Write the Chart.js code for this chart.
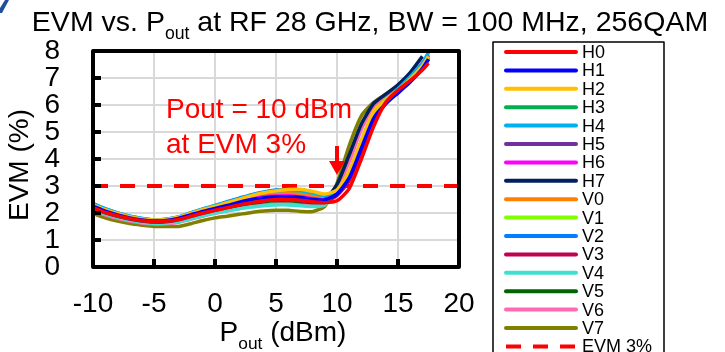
<!DOCTYPE html>
<html>
<head>
<meta charset="utf-8">
<script src="https://cdn.jsdelivr.net/npm/chart.js@4.4.1/dist/chart.umd.min.js"></script>
<style>
  html, body { margin: 0; padding: 0; background: #fff; }
  #wrap { width: 725px; height: 352px; }
</style>
</head>
<body>
<div id="wrap"><canvas id="evmChart" width="725" height="352"></canvas></div>
<script>
// Pout (dBm) sample points shared by every curve
const pout = [-10, -9, -8, -7, -6, -5, -4, -3, -2, -1, 0, 1, 2, 3, 4, 5, 6, 7, 8, 9,
              10, 11, 12, 13, 14, 15, 16, 17, 17.5];

// EVM (%) per channel
const H0 = [2.2, 2.02, 1.9, 1.8, 1.72, 1.68, 1.7, 1.76, 1.88, 2.0, 2.1, 2.2, 2.3, 2.38, 2.45, 2.5, 2.5, 2.47, 2.42, 2.38,
            2.45, 2.9, 4.0, 5.2, 6.1, 6.55, 6.9, 7.3, 7.55];
const H1 = [2.25, 2.07, 1.93, 1.82, 1.74, 1.7, 1.72, 1.8, 1.93, 2.06, 2.17, 2.28, 2.4, 2.5, 2.56, 2.6, 2.6, 2.57, 2.5, 2.48,
            2.7, 3.3, 4.4, 5.5, 6.05, 6.45, 6.85, 7.35, 7.7];
const H2 = [2.3, 2.12, 1.98, 1.86, 1.78, 1.74, 1.76, 1.84, 1.98, 2.12, 2.24, 2.38, 2.5, 2.64, 2.75, 2.82, 2.87, 2.88, 2.8, 2.7,
            2.85, 3.55, 4.7, 5.75, 6.2, 6.55, 6.95, 7.45, 7.8];
const H3 = [2.2, 2.03, 1.9, 1.8, 1.72, 1.68, 1.7, 1.77, 1.9, 2.02, 2.13, 2.24, 2.35, 2.44, 2.5, 2.53, 2.54, 2.5, 2.45, 2.45,
            2.75, 3.45, 4.6, 5.65, 6.15, 6.5, 6.9, 7.4, 7.75];
const H4 = [2.35, 2.16, 2.0, 1.88, 1.8, 1.75, 1.77, 1.85, 2.0, 2.14, 2.26, 2.4, 2.53, 2.66, 2.76, 2.82, 2.84, 2.82, 2.74, 2.65,
            2.85, 3.5, 4.65, 5.7, 6.2, 6.6, 7.05, 7.55, 7.95];
const H5 = [2.22, 2.05, 1.92, 1.82, 1.74, 1.7, 1.72, 1.79, 1.92, 2.05, 2.16, 2.27, 2.38, 2.48, 2.54, 2.57, 2.58, 2.55, 2.49, 2.47,
            2.75, 3.4, 4.55, 5.6, 6.1, 6.45, 6.9, 7.4, 7.7];
const H6 = [2.25, 2.07, 1.94, 1.83, 1.75, 1.71, 1.73, 1.81, 1.95, 2.09, 2.2, 2.32, 2.44, 2.54, 2.6, 2.63, 2.64, 2.6, 2.54, 2.5,
            2.8, 3.45, 4.6, 5.65, 6.15, 6.55, 7.0, 7.55, 7.85];
const H7 = [2.2, 2.03, 1.9, 1.8, 1.72, 1.68, 1.7, 1.78, 1.9, 2.03, 2.14, 2.25, 2.36, 2.45, 2.51, 2.54, 2.54, 2.5, 2.46, 2.5,
            3.05, 4.15, 5.3, 6.05, 6.4, 6.75, 7.2, 7.8, null];
const V0 = [2.28, 2.1, 1.96, 1.85, 1.77, 1.73, 1.75, 1.83, 1.96, 2.1, 2.22, 2.34, 2.46, 2.58, 2.66, 2.7, 2.72, 2.7, 2.62, 2.56,
            2.8, 3.4, 4.55, 5.6, 6.15, 6.55, 6.95, 7.45, 7.75];
const V1 = [2.28, 2.1, 1.96, 1.85, 1.77, 1.73, 1.75, 1.84, 1.98, 2.13, 2.26, 2.37, 2.48, 2.6, 2.68, 2.73, 2.76, 2.75, 2.66, 2.58,
            2.8, 3.45, 4.6, 5.65, 6.15, 6.5, 6.95, 7.45, 7.8];
const V2 = [2.35, 2.15, 2.0, 1.88, 1.8, 1.75, 1.77, 1.85, 2.0, 2.15, 2.28, 2.42, 2.55, 2.68, 2.78, 2.85, 2.87, 2.85, 2.75, 2.65,
            2.8, 3.5, 4.65, 5.7, 6.2, 6.55, 7.0, 7.5, 7.85];
const V3 = [2.18, 2.01, 1.88, 1.78, 1.7, 1.66, 1.68, 1.75, 1.87, 1.99, 2.1, 2.2, 2.3, 2.39, 2.45, 2.48, 2.48, 2.45, 2.4, 2.4,
            2.65, 3.2, 4.3, 5.4, 6.05, 6.5, 6.9, 7.4, 7.7];
const V4 = [2.15, 1.97, 1.84, 1.74, 1.66, 1.62, 1.63, 1.68, 1.78, 1.9, 2.0, 2.08, 2.16, 2.22, 2.27, 2.3, 2.3, 2.27, 2.24, 2.3,
            2.8, 3.5, 4.65, 5.7, 6.2, 6.55, 7.0, 7.5, 7.8];
const V5 = [2.18, 2.0, 1.87, 1.77, 1.69, 1.65, 1.67, 1.74, 1.86, 1.98, 2.08, 2.18, 2.28, 2.36, 2.42, 2.45, 2.45, 2.42, 2.38, 2.4,
            2.7, 3.35, 4.5, 5.6, 6.1, 6.5, 6.9, 7.4, 7.7];
const V6 = [2.1, 1.93, 1.8, 1.7, 1.63, 1.59, 1.6, 1.66, 1.77, 1.89, 1.99, 2.08, 2.17, 2.25, 2.3, 2.33, 2.33, 2.3, 2.28, 2.35,
            2.9, 3.9, 5.1, 5.95, 6.3, 6.65, 7.05, 7.5, 7.85];
const V7 = [1.98, 1.82, 1.7, 1.61, 1.55, 1.5, 1.5, 1.5, 1.6, 1.72, 1.82, 1.88, 1.95, 2.02, 2.07, 2.1, 2.1, 2.06, 2.05, 2.25,
            3.1, 4.5, 5.6, 6.1, 6.4, 6.7, null, null, null];

const seriesNames = ['H0', 'H1', 'H2', 'H3', 'H4', 'H5', 'H6', 'H7', 'V0', 'V1', 'V2', 'V3', 'V4', 'V5', 'V6', 'V7'];
const seriesValues = [H0, H1, H2, H3, H4, H5, H6, H7, V0, V1, V2, V3, V4, V5, V6, V7];
const seriesColors = ['#FF0000', '#0000FF', '#FFC000', '#00B050', '#00B0F0', '#7030A0', '#FF00FF', '#002060',
                      '#FF8000', '#80FF00', '#0080FF', '#C00050', '#40E0D0', '#006400', '#FF69B4', '#808000'];

// EVM 3% reference line
const limitX = [-10, 20];
const limitY = [3, 3];

const xTicks = [-10, -5, 0, 5, 10, 15, 20];
const yTicks = [0, 1, 2, 3, 4, 5, 6, 7, 8];

const FONT = '"Liberation Sans", Arial, Helvetica, sans-serif';

const datasets = seriesNames.map((name, i) => ({
  label: name,
  data: pout.map((x, j) => ({ x: x, y: seriesValues[i][j] })).filter(p => p.y !== null),
  borderColor: seriesColors[i],
  backgroundColor: seriesColors[i],
  borderWidth: 3.5,
  pointRadius: 0,
  tension: 0.2,
  fill: false
}));
datasets.push({
  label: 'EVM 3%',
  data: limitX.map((x, j) => ({ x: x, y: limitY[j] })),
  borderColor: '#FF0000',
  backgroundColor: '#FF0000',
  borderWidth: 4,
  borderDash: [15, 12],
  pointRadius: 0,
  fill: false
});

// draws text with a subscript part, centred on cx
function drawSubText(ctx, parts, cx, baseY, size) {
  let total = 0;
  parts.forEach(p => {
    ctx.font = (p.sub ? size * 0.62 : size) + 'px ' + FONT;
    p.w = ctx.measureText(p.t).width;
    total += p.w;
  });
  let x = cx - total / 2;
  parts.forEach(p => {
    ctx.font = (p.sub ? size * 0.62 : size) + 'px ' + FONT;
    ctx.fillText(p.t, x, baseY + (p.sub ? size * 0.28 : 0));
    x += p.w;
  });
}

const decorations = {
  id: 'decorations',
  afterDraw(chart) {
    const ctx = chart.ctx;
    const a = chart.chartArea;
    const sx = chart.scales.x, sy = chart.scales.y;
    ctx.save();

    // inner tick marks
    ctx.strokeStyle = '#000';
    ctx.lineWidth = 4;
    yTicks.forEach(v => {
      const y = sy.getPixelForValue(v);
      ctx.beginPath(); ctx.moveTo(a.left, y); ctx.lineTo(a.left + 8, y); ctx.stroke();
    });
    xTicks.forEach(v => {
      const x = sx.getPixelForValue(v);
      ctx.beginPath(); ctx.moveTo(x, a.bottom); ctx.lineTo(x, a.bottom - 8); ctx.stroke();
    });

    // plot frame
    ctx.lineWidth = 4;
    ctx.lineJoin = 'round';
    ctx.strokeRect(a.left, a.top, a.right - a.left, a.bottom - a.top);

    // titles
    ctx.fillStyle = '#000';
    ctx.textAlign = 'left';
    ctx.textBaseline = 'alphabetic';
    drawSubText(ctx, [{ t: 'EVM vs. P' }, { t: 'out', sub: true }, { t: ' at RF 28 GHz, BW = 100 MHz, 256QAM' }], 370, 31, 28.5);
    drawSubText(ctx, [{ t: 'P' }, { t: 'out', sub: true }, { t: ' (dBm)' }], 283, 341, 28);

    ctx.save();
    ctx.translate(28, 165);
    ctx.rotate(-Math.PI / 2);
    ctx.font = '28px ' + FONT;
    ctx.textAlign = 'center';
    ctx.fillText('EVM (%)', 0, 0);
    ctx.restore();

    // annotation
    ctx.fillStyle = '#FF0000';
    ctx.font = '28px ' + FONT;
    ctx.textAlign = 'left';
    ctx.fillText('Pout = 10 dBm', 166, 118);
    ctx.fillText('at EVM 3%', 166, 153);
    const ax = sx.getPixelForValue(10);
    ctx.strokeStyle = '#FF0000';
    ctx.lineWidth = 4;
    ctx.beginPath(); ctx.moveTo(ax, 146); ctx.lineTo(ax, 163); ctx.stroke();
    ctx.beginPath();
    ctx.moveTo(ax - 8, 161); ctx.lineTo(ax + 8, 161); ctx.lineTo(ax, 175); ctx.closePath();
    ctx.fill();

    // legend
    const lx = 493, ly = 42;
    ctx.strokeStyle = '#000';
    ctx.lineWidth = 1.5;
    ctx.strokeRect(lx, ly, 171, 330);
    ctx.font = '18px ' + FONT;
    ctx.textBaseline = 'middle';
    chart.data.datasets.forEach((ds, i) => {
      const y = 52 + i * 18.4;
      ctx.strokeStyle = ds.borderColor;
      ctx.lineWidth = 4;
      ctx.lineCap = ds.borderDash ? 'butt' : 'round';
      ctx.setLineDash(ds.borderDash || []);
      ctx.beginPath(); ctx.moveTo(506, y); ctx.lineTo(576, y); ctx.stroke();
      ctx.setLineDash([]);
      ctx.fillStyle = '#000';
      ctx.fillText(ds.label, 582, y + 1);
    });

    // corner mark
    ctx.fillStyle = '#1F4E9A';
    ctx.beginPath();
    ctx.moveTo(0, 8); ctx.lineTo(5, 0); ctx.lineTo(9, 0); ctx.lineTo(2, 13); ctx.lineTo(0, 13);
    ctx.closePath(); ctx.fill();

    ctx.restore();
  }
};

new Chart(document.getElementById('evmChart'), {
  type: 'line',
  data: { datasets: datasets },
  options: {
    responsive: false,
    animation: false,
    layout: { padding: { top: 51, right: 266, left: 0, bottom: 0 } },
    scales: {
      x: {
        type: 'linear',
        min: -10,
        max: 20,
        afterFit: s => { s.height = 85; },
        afterBuildTicks: s => { s.ticks = xTicks.map(v => ({ value: v })); },
        grid: { color: '#D9D9D9', lineWidth: 2, drawTicks: false },
        border: { display: false },
        ticks: { color: '#000', font: { family: FONT, size: 28 }, padding: 20, maxRotation: 0, autoSkip: false }
      },
      y: {
        min: 0,
        max: 8,
        afterFit: s => { s.width = 93; },
        afterBuildTicks: s => { s.ticks = yTicks.map(v => ({ value: v })); },
        grid: { color: '#D9D9D9', lineWidth: 2, drawTicks: false },
        border: { display: false },
        ticks: { color: '#000', font: { family: FONT, size: 28 }, padding: 33, autoSkip: false }
      }
    },
    plugins: {
      legend: { display: false },
      tooltip: { enabled: false },
      title: { display: false }
    }
  },
  plugins: [decorations]
});
</script>
</body>
</html>
